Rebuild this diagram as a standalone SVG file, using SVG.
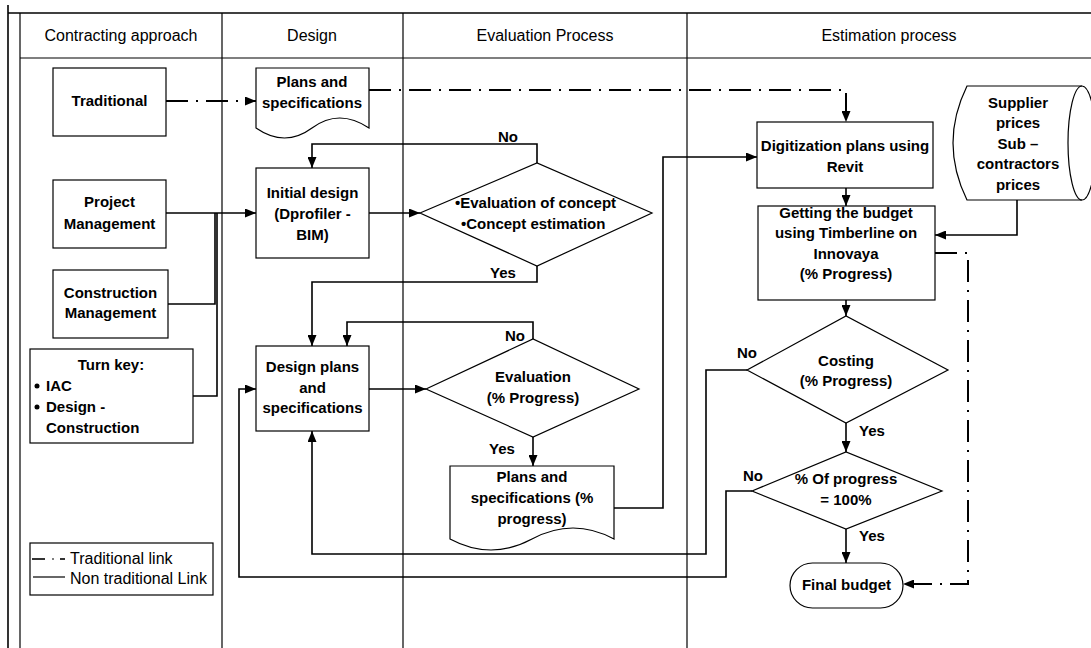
<svg xmlns="http://www.w3.org/2000/svg" width="1091" height="648" viewBox="0 0 1091 648">
<style>
.frame{fill:none;stroke:#000;stroke-width:1.2}
.box{fill:#fff;stroke:#000;stroke-width:1.2}
.hdr{font-family:"Liberation Sans",Arial,sans-serif;font-size:16px;fill:#000;text-anchor:middle}
.t{font-family:"Liberation Sans",Arial,sans-serif;font-size:15px;font-weight:bold;fill:#000;text-anchor:middle}
.ts{font-family:"Liberation Sans",Arial,sans-serif;font-size:15px;font-weight:bold;fill:#000;text-anchor:start}
.lg{font-family:"Liberation Sans",Arial,sans-serif;font-size:16px;fill:#000;text-anchor:start}
.c{fill:none;stroke:#000;stroke-width:1.6}
.d{fill:none;stroke:#000;stroke-width:2;stroke-dasharray:22 8 2 8}
</style>
<defs>
<marker id="ah" markerUnits="userSpaceOnUse" markerWidth="11" markerHeight="9" refX="11" refY="4.5" orient="auto">
<path d="M0,0 L11,4.5 L0,9 Z" fill="#000"/>
</marker>
</defs>
<rect x="0" y="0" width="1091" height="648" fill="#fff"/>
<g id="lanes">
<line class="frame" x1="8" y1="5" x2="8" y2="648" style="stroke-width:1.6"/>
<line class="frame" x1="20" y1="13" x2="20" y2="648"/>
<line class="frame" x1="8" y1="13" x2="1091" y2="13" style="stroke-width:1.6"/>
<line class="frame" x1="20" y1="58" x2="1091" y2="58"/>
<line class="frame" x1="222" y1="13" x2="222" y2="648"/>
<line class="frame" x1="403" y1="13" x2="403" y2="648"/>
<line class="frame" x1="687" y1="13" x2="687" y2="648"/>
<text class="hdr" x="121" y="41">Contracting approach</text>
<text class="hdr" x="312" y="41">Design</text>
<text class="hdr" x="545" y="41">Evaluation Process</text>
<text class="hdr" x="889" y="41">Estimation process</text>
</g>
<g id="connectors">
<path class="d" d="M166,101 H256" marker-end="url(#ah)"/>
<path class="d" d="M369,90 H846 V122" marker-end="url(#ah)"/>
<path class="d" d="M935,253 H968 V584 H903" marker-end="url(#ah)"/>
<path class="c" d="M166,213 H256" marker-end="url(#ah)"/>
<path class="c" d="M168,304 H215 V213"/>
<path class="c" d="M193,396 H217 V213"/>
<path class="c" d="M369,213 H420" marker-end="url(#ah)"/>
<path class="c" d="M537,163 V144 H312 V168" marker-end="url(#ah)"/>
<path class="c" d="M537,266 V282 H312 V346" marker-end="url(#ah)"/>
<path class="c" d="M533,339 V322 H347 V346" marker-end="url(#ah)"/>
<path class="c" d="M369,389 H426" marker-end="url(#ah)"/>
<path class="c" d="M533,437 V466" marker-end="url(#ah)"/>
<path class="c" d="M614,508 H663 V157 H757" marker-end="url(#ah)"/>
<path class="c" d="M747,370 H706 V554 H312 V431" marker-end="url(#ah)"/>
<path class="c" d="M752,491 H726 V577 H239 V389 H256" marker-end="url(#ah)"/>
<path class="c" d="M846,188 V206" marker-end="url(#ah)"/>
<path class="c" d="M846,300 V316" marker-end="url(#ah)"/>
<path class="c" d="M846,423 V452" marker-end="url(#ah)"/>
<path class="c" d="M846,529 V563" marker-end="url(#ah)"/>
<path class="c" d="M1017,200 V235 H935" marker-end="url(#ah)"/>
<text class="t" x="508" y="142">No</text>
<text class="t" x="503" y="278">Yes</text>
<text class="t" x="515" y="341">No</text>
<text class="t" x="502" y="454">Yes</text>
<text class="t" x="747" y="358">No</text>
<text class="t" x="872" y="436">Yes</text>
<text class="t" x="753" y="481">No</text>
<text class="t" x="872" y="541">Yes</text>
</g>
<g id="traditional">
<rect class="box" x="53" y="68" width="113" height="68"/>
<text class="t" x="109.5" y="106">Traditional</text>
</g>
<g id="project-management">
<rect class="box" x="53" y="180" width="113" height="68"/>
<text class="t" x="109.5" y="207">Project</text>
<text class="t" x="109.5" y="229">Management</text>
</g>
<g id="construction-management">
<rect class="box" x="53" y="270" width="115" height="68"/>
<text class="t" x="110.5" y="298">Construction</text>
<text class="t" x="110.5" y="318">Management</text>
</g>
<g id="turn-key">
<rect class="box" x="30" y="349" width="163" height="94"/>
<text class="t" x="111" y="370">Turn key:</text>
<circle cx="37" cy="386" r="2.5" fill="#000"/>
<text class="ts" x="46" y="391">IAC</text>
<circle cx="37" cy="407" r="2.5" fill="#000"/>
<text class="ts" x="46" y="412">Design -</text>
<text class="ts" x="46" y="433">Construction</text>
</g>
<g id="plans-specs-top">
<path class="box" d="M256,68 H369 V128 Q339,108 312,128 T256,128 Z"/>
<text class="t" x="312" y="87">Plans and</text>
<text class="t" x="312" y="108">specifications</text>
</g>
<g id="initial-design">
<rect class="box" x="256" y="168" width="113" height="90"/>
<text class="t" x="312.5" y="198">Initial design</text>
<text class="t" x="312.5" y="219">(Dprofiler -</text>
<text class="t" x="312.5" y="240">BIM)</text>
</g>
<g id="design-plans">
<rect class="box" x="256" y="346" width="113" height="85"/>
<text class="t" x="312.5" y="372">Design plans</text>
<text class="t" x="312.5" y="393">and</text>
<text class="t" x="312.5" y="413">specifications</text>
</g>
<g id="concept-decision">
<path class="box" d="M420,213 L537,163 L652,213 L537,266 Z"/>
<text class="ts" x="455" y="208">•Evaluation of concept</text>
<text class="ts" x="461" y="229">•Concept estimation</text>
</g>
<g id="evaluation-decision">
<path class="box" d="M426,389 L533,339 L639,389 L533,437 Z"/>
<text class="t" x="533" y="382">Evaluation</text>
<text class="t" x="533" y="403">(% Progress)</text>
</g>
<g id="plans-specs-progress">
<path class="box" d="M450,466 H614 V539 Q573,517 532,539 T450,539 Z"/>
<text class="t" x="532" y="482">Plans and</text>
<text class="t" x="532" y="503">specifications (%</text>
<text class="t" x="532" y="524">progress)</text>
</g>
<g id="digitization">
<rect class="box" x="757" y="122" width="176" height="66"/>
<text class="t" x="845" y="151">Digitization plans using</text>
<text class="t" x="845" y="172">Revit</text>
</g>
<g id="getting-budget">
<rect class="box" x="758" y="206" width="177" height="94"/>
<text class="t" x="846" y="218">Getting the budget</text>
<text class="t" x="846" y="238">using Timberline on</text>
<text class="t" x="846" y="259">Innovaya</text>
<text class="t" x="846" y="279">(% Progress)</text>
</g>
<g id="supplier-prices">
<path class="box" d="M967,86 H1082 A14,57 0 0,1 1082,200 H967 Q939,143 967,86 Z"/>
<path class="box" style="fill:none" d="M1082,86 A14,57 0 0,0 1082,200"/>
<text class="t" x="1018" y="108">Supplier</text>
<text class="t" x="1018" y="128">prices</text>
<text class="t" x="1018" y="149">Sub –</text>
<text class="t" x="1018" y="169">contractors</text>
<text class="t" x="1018" y="190">prices</text>
</g>
<g id="costing">
<path class="box" d="M747,370 L846,316 L948,370 L846,423 Z"/>
<text class="t" x="846" y="366">Costing</text>
<text class="t" x="846" y="386">(% Progress)</text>
</g>
<g id="progress-check">
<path class="box" d="M752,491 L846,452 L942,491 L846,529 Z"/>
<text class="t" x="846" y="484">% Of progress</text>
<text class="t" x="846" y="505">= 100%</text>
</g>
<g id="final-budget">
<rect class="box" x="790" y="563" width="113" height="45" rx="22.5"/>
<text class="t" x="846.5" y="590">Final budget</text>
</g>
<g id="legend">
<rect class="box" x="30" y="543" width="183" height="52"/>
<line x1="32" y1="559" x2="45" y2="559" stroke="#000" stroke-width="1.6"/>
<line x1="52" y1="559" x2="54" y2="559" stroke="#000" stroke-width="1.2"/>
<line x1="60" y1="559" x2="65" y2="559" stroke="#000" stroke-width="1.6"/>
<text class="lg" x="70" y="564">Traditional link</text>
<line x1="33" y1="577" x2="65" y2="577" stroke="#000" stroke-width="1.2"/>
<text class="lg" x="70" y="584">Non traditional Link</text>
</g>
</svg>
